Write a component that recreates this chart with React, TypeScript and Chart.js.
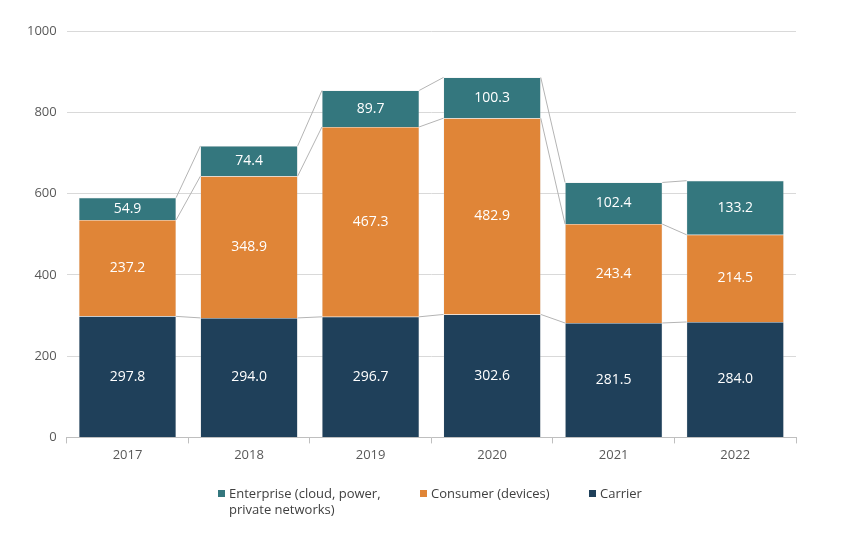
import React, { useEffect, useRef } from "react";
import { Chart, registerables } from "chart.js";

Chart.register(...registerables);

const years = ["2017", "2018", "2019", "2020", "2021", "2022"];
const carrier = [297.8, 294.0, 296.7, 302.6, 281.5, 284.0];
const consumer = [237.2, 348.9, 467.3, 482.9, 243.4, 214.5];
const enterprise = [54.9, 74.4, 89.7, 100.3, 102.4, 133.2];

const seriesNames = ["Carrier", "Consumer (devices)", "Enterprise (cloud, power, private networks)"];
const seriesColors = ["#1f405a", "#e08537", "#34777e"];
const yTicks = [0, 200, 400, 600, 800, 1000];

const FONT = "'Open Sans', 'Noto Sans', sans-serif";

const seriesLinesPlugin = {
  id: "seriesLines",
  afterDatasetsDraw(chart: any) {
    const ctx = chart.ctx;
    ctx.save();
    ctx.strokeStyle = "#b4b4b4";
    ctx.lineWidth = 1;
    chart.data.datasets.forEach((_ds: any, d: number) => {
      const meta = chart.getDatasetMeta(d);
      for (let i = 0; i < meta.data.length - 1; i++) {
        const a = meta.data[i];
        const b = meta.data[i + 1];
        ctx.beginPath();
        ctx.moveTo(a.x + a.width / 2, a.y);
        ctx.lineTo(b.x - b.width / 2, b.y);
        ctx.stroke();
      }
    });
    ctx.restore();
  },
};

const valueLabelsPlugin = {
  id: "valueLabels",
  afterDatasetsDraw(chart: any) {
    const ctx = chart.ctx;
    ctx.save();
    ctx.fillStyle = "#ffffff";
    ctx.font = `14px ${FONT}`;
    ctx.textAlign = "center";
    ctx.textBaseline = "middle";
    chart.data.datasets.forEach((ds: any, d: number) => {
      const meta = chart.getDatasetMeta(d);
      meta.data.forEach((bar: any, i: number) => {
        const v = ds.data[i];
        ctx.fillText(v.toFixed(1), bar.x, (bar.y + bar.base) / 2);
      });
    });
    ctx.restore();
  },
};

export default function App() {
  const ref = useRef<HTMLCanvasElement>(null);

  useEffect(() => {
    document.body.style.margin = "0";
    const values = [carrier, consumer, enterprise];
    const chart = new Chart(ref.current!, {
      type: "bar",
      data: {
        labels: years,
        datasets: values.map((v, k) => ({
          label: seriesNames[k],
          data: v,
          backgroundColor: seriesColors[k],
          borderColor: "rgba(200,200,200,0.6)",
          borderWidth: 0.5,
          barPercentage: 0.8,
          categoryPercentage: 1,
        })),
      },
      options: {
        animation: false,
        responsive: false,
        layout: { padding: { left: 17, right: 54, top: 31, bottom: 68 } },
        plugins: {
          legend: { display: false },
          tooltip: { enabled: false },
        },
        scales: {
          x: {
            stacked: true,
            grid: {
              offset: true,
              drawOnChartArea: false,
              color: "#bfbfbf",
              tickLength: 6,
            },
            border: { display: true, color: "#bfbfbf" },
            ticks: { color: "#595959", font: { family: FONT, size: 13 }, padding: 4 },
          },
          y: {
            stacked: true,
            min: 0,
            max: 1000,
            afterBuildTicks: (axis: any) => {
              axis.ticks = yTicks.map((v) => ({ value: v }));
            },
            grid: { color: "#d9d9d9", drawTicks: false },
            border: { display: false },
            ticks: {
              color: "#595959",
              font: { family: FONT, size: 13 },
              padding: 10,
              callback: (v: any) => String(v),
            },
          },
        },
      },
      plugins: [seriesLinesPlugin, valueLabelsPlugin],
    });
    return () => chart.destroy();
  }, []);

  const legendOrder = [2, 1, 0];
  const legendPos = [218, 420, 589];
  return (
    <div style={{ position: "relative", width: 850, height: 535 }}>
      <canvas ref={ref} width={850} height={535} />
      {legendOrder.map((k, j) => (
        <div
          key={k}
          style={{
            position: "absolute",
            left: legendPos[j],
            top: 485,
            display: "flex",
            alignItems: "flex-start",
            fontFamily: FONT,
            fontSize: 13,
            lineHeight: "16px",
            color: "#404040",
          }}
        >
          <span
            style={{
              display: "inline-block",
              width: 7,
              height: 7,
              background: seriesColors[k],
              marginTop: 5,
              marginRight: 4,
            }}
          />
          <span style={{ width: k === 2 ? 170 : undefined, whiteSpace: k === 2 ? "normal" : "nowrap" }}>
            {seriesNames[k]}
          </span>
        </div>
      ))}
    </div>
  );
}
